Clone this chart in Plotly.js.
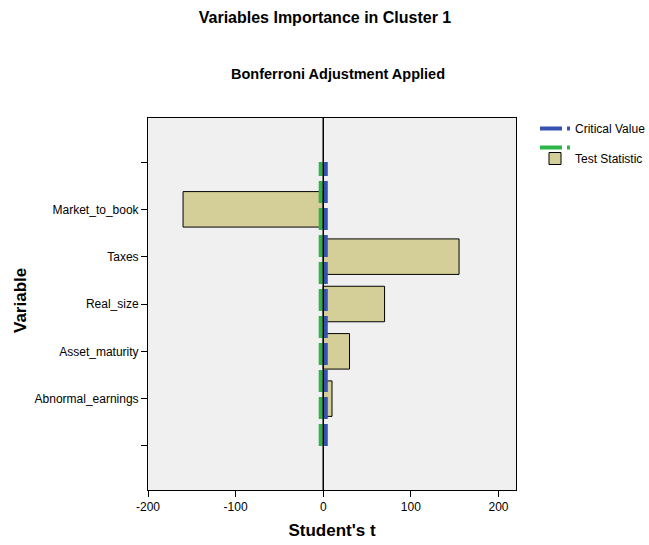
<!DOCTYPE html>
<html>
<head>
<meta charset="utf-8">
<script src="https://cdn.plot.ly/plotly-3.0.1.min.js"></script>
<style>html,body{margin:0;padding:0;background:#fff;}#chart{width:649px;height:545px;}</style>
</head>
<body>
<div id="chart"></div>
<script>
// Category slots top to bottom (blank slots at both ends, as in the reference)
var categories = ["", "Market_to_book", "Taxes", "Real_size", "Asset_maturity", "Abnormal_earnings", ""];
var variables = ["Market_to_book", "Taxes", "Real_size", "Asset_maturity", "Abnormal_earnings"];
var testStatistic = [-160, 155, 70, 30, 10];
var criticalUpper = 2.9;
var criticalLower = -2.9;
var xTickVals = [-200, -100, 0, 100, 200];

var idx = function (name) { return categories.indexOf(name); };
var catIdx = categories.map(function (c, i) { return i; });
var yFirst = catIdx[0], yLast = catIdx[catIdx.length - 1];

var font = "Liberation Sans, Arial, sans-serif";

var traces = [
  {
    type: "scatter", mode: "lines", name: "Critical Value",
    x: [criticalUpper, criticalUpper], y: [yLast, yFirst],
    line: {color: "#3652b0", width: 4, dash: "22px,5px"},
    hoverinfo: "skip", legend: "legend"
  },
  {
    type: "scatter", mode: "lines", name: " ",
    x: [criticalLower, criticalLower], y: [yLast, yFirst],
    line: {color: "#2cb548", width: 4, dash: "22px,5px"},
    hoverinfo: "skip", legend: "legend"
  },
  {
    type: "bar", orientation: "h", name: "Test Statistic",
    x: testStatistic, y: variables.map(idx), width: 0.75,
    marker: {color: "#d4cf98", line: {color: "#000", width: 1}},
    legend: "legend2"
  }
];

var PL = 148, PT = 118, PW = 368, PH = 372;
function px2x(p) { return (p - PL) / PW; }
function px2y(p) { return (PT + PH - p) / PH; }

var layout = {
  width: 649, height: 545,
  margin: {l: 148, r: 133, t: 118, b: 55, autoexpand: false},
  paper_bgcolor: "#ffffff",
  plot_bgcolor: "#f0f0f0",
  font: {family: font, size: 12, color: "#000"},
  showlegend: true,
  title: {
    text: "<b>Variables Importance in Cluster 1</b>",
    font: {family: font, size: 16, color: "#000"},
    x: 325 / 649, xref: "container", xanchor: "center",
    y: 1 - 17 / 545, yref: "container", yanchor: "middle"
  },
  annotations: [
    {
      text: "<b>Bonferroni Adjustment Applied</b>",
      xref: "paper", yref: "paper", x: px2x(338), y: px2y(74),
      xanchor: "center", yanchor: "middle", showarrow: false,
      font: {family: font, size: 14.5, color: "#000"}
    },
    {
      text: "<b>Variable</b>",
      xref: "paper", yref: "paper", x: px2x(20), y: px2y(301),
      xanchor: "center", yanchor: "middle", showarrow: false, textangle: -90,
      font: {family: font, size: 17, color: "#000"}
    }
  ],
  xaxis: {
    range: [-200, 220], tickvals: xTickVals, ticktext: xTickVals.map(String),
    ticks: "outside", ticklen: 6, tickcolor: "#000", tickwidth: 1,
    showline: true, linecolor: "#000", linewidth: 1, mirror: true,
    showgrid: false, zeroline: false, automargin: false,
    tickfont: {family: font, size: 12},
    title: {text: "<b>Student's t</b>", font: {family: font, size: 17}, standoff: 10}
  },
  yaxis: {
    range: [yLast + 0.93, yFirst - 0.93],
    tickvals: catIdx, ticktext: categories,
    ticks: "outside", ticklen: 6, tickcolor: "#000", tickwidth: 1,
    showline: true, linecolor: "#000", linewidth: 1, mirror: true,
    showgrid: false, zeroline: false, automargin: false,
    tickfont: {family: font, size: 12}
  },
  shapes: [{
    type: "line", xref: "x", yref: "paper", x0: 0, x1: 0, y0: 0, y1: 1,
    line: {color: "#000", width: 1.5}, layer: "above"
  }],
  legend: {
    x: px2x(535), y: px2y(114), xanchor: "left", yanchor: "top",
    bgcolor: "rgba(0,0,0,0)", itemwidth: 30, tracegroupgap: 0,
    font: {family: font, size: 12}, traceorder: "normal"
  },
  legend2: {
    x: px2x(535), y: px2y(144), xanchor: "left", yanchor: "top",
    bgcolor: "rgba(0,0,0,0)", itemwidth: 30, tracegroupgap: 0,
    font: {family: font, size: 12}
  }
};

Plotly.newPlot("chart", traces, layout, {displayModeBar: false, staticPlot: true});
</script>
</body>
</html>
